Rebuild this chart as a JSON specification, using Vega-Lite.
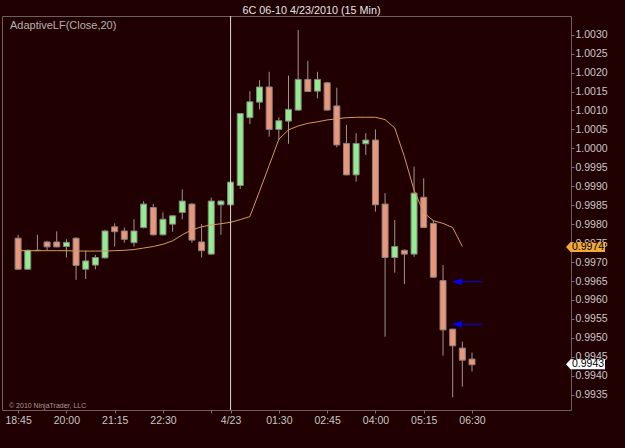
{
  "$schema": "https://vega.github.io/schema/vega-lite/v6.json",
  "width": 569,
  "height": 394,
  "autosize": "none",
  "padding": {"left": 2, "top": 16, "right": 54, "bottom": 38},
  "background": "#200000",
  "config": {
    "view": {"stroke": "#6e5e5e", "strokeWidth": 1},
    "font": "Liberation Sans",
    "axis": {"labelOverlap": false, "labelFlush": false, "grid": false, "zindex": 0}
  },
  "title": {"text": "6C 06-10  4/23/2010 (15 Min)", "color": "#e6e6e6", "fontSize": 10.8, "fontWeight": "normal", "anchor": "middle", "frame": "group", "dx": 25, "offset": 0, "font": "Liberation Sans"},
  "datasets": {
    "candles": [
      {"t": "2010-04-22T18:45", "o": 0.99763, "h": 0.99772, "l": 0.99680, "c": 0.99681},
      {"t": "2010-04-22T19:00", "o": 0.99681, "h": 0.99733, "l": 0.99680, "c": 0.99731},
      {"t": "2010-04-22T19:15", "o": 0.99730, "h": 0.99772, "l": 0.99729, "c": 0.99731},
      {"t": "2010-04-22T19:30", "o": 0.99753, "h": 0.99756, "l": 0.99730, "c": 0.99740},
      {"t": "2010-04-22T19:45", "o": 0.99753, "h": 0.99781, "l": 0.99739, "c": 0.99740},
      {"t": "2010-04-22T20:00", "o": 0.99741, "h": 0.99760, "l": 0.99712, "c": 0.99752},
      {"t": "2010-04-22T20:15", "o": 0.99763, "h": 0.99765, "l": 0.99653, "c": 0.99691},
      {"t": "2010-04-22T20:30", "o": 0.99681, "h": 0.99730, "l": 0.99655, "c": 0.99703},
      {"t": "2010-04-22T20:45", "o": 0.99692, "h": 0.99719, "l": 0.99681, "c": 0.99712},
      {"t": "2010-04-22T21:00", "o": 0.99711, "h": 0.99785, "l": 0.99709, "c": 0.99782},
      {"t": "2010-04-22T21:15", "o": 0.99793, "h": 0.99802, "l": 0.99741, "c": 0.99780},
      {"t": "2010-04-22T21:30", "o": 0.99782, "h": 0.99791, "l": 0.99751, "c": 0.99760},
      {"t": "2010-04-22T21:45", "o": 0.99751, "h": 0.99813, "l": 0.99741, "c": 0.99782},
      {"t": "2010-04-22T22:00", "o": 0.99791, "h": 0.99861, "l": 0.99789, "c": 0.99853},
      {"t": "2010-04-22T22:15", "o": 0.99844, "h": 0.99853, "l": 0.99770, "c": 0.99772},
      {"t": "2010-04-22T22:30", "o": 0.99772, "h": 0.99831, "l": 0.99770, "c": 0.99813},
      {"t": "2010-04-22T22:45", "o": 0.99800, "h": 0.99824, "l": 0.99780, "c": 0.99822},
      {"t": "2010-04-22T23:00", "o": 0.99831, "h": 0.99892, "l": 0.99813, "c": 0.99861},
      {"t": "2010-04-22T23:15", "o": 0.99853, "h": 0.99855, "l": 0.99751, "c": 0.99758},
      {"t": "2010-04-22T23:30", "o": 0.99753, "h": 0.99800, "l": 0.99712, "c": 0.99730},
      {"t": "2010-04-22T23:45", "o": 0.99721, "h": 0.99870, "l": 0.99719, "c": 0.99861},
      {"t": "2010-04-23T00:00", "o": 0.99851, "h": 0.99863, "l": 0.99772, "c": 0.99861},
      {"t": "2010-04-23T00:15", "o": 0.99851, "h": 0.99913, "l": 0.99849, "c": 0.99911},
      {"t": "2010-04-23T00:30", "o": 0.99902, "h": 1.00093, "l": 0.99893, "c": 1.00092},
      {"t": "2010-04-23T00:45", "o": 1.00081, "h": 1.00151, "l": 1.00064, "c": 1.00123},
      {"t": "2010-04-23T01:00", "o": 1.00122, "h": 1.00180, "l": 1.00103, "c": 1.00162},
      {"t": "2010-04-23T01:15", "o": 1.00162, "h": 1.00202, "l": 1.00031, "c": 1.00050},
      {"t": "2010-04-23T01:30", "o": 1.00050, "h": 1.00082, "l": 1.00022, "c": 1.00073},
      {"t": "2010-04-23T01:45", "o": 1.00072, "h": 1.00192, "l": 1.00012, "c": 1.00103},
      {"t": "2010-04-23T02:00", "o": 1.00101, "h": 1.00312, "l": 1.00100, "c": 1.00182},
      {"t": "2010-04-23T02:15", "o": 1.00182, "h": 1.00231, "l": 1.00150, "c": 1.00150},
      {"t": "2010-04-23T02:30", "o": 1.00151, "h": 1.00202, "l": 1.00132, "c": 1.00182},
      {"t": "2010-04-23T02:45", "o": 1.00173, "h": 1.00175, "l": 1.00100, "c": 1.00101},
      {"t": "2010-04-23T03:00", "o": 1.00112, "h": 1.00160, "l": 1.00003, "c": 1.00009},
      {"t": "2010-04-23T03:15", "o": 1.00013, "h": 1.00062, "l": 0.99929, "c": 0.99930},
      {"t": "2010-04-23T03:30", "o": 0.99930, "h": 1.00040, "l": 0.99912, "c": 1.00013},
      {"t": "2010-04-23T03:45", "o": 1.00012, "h": 1.00040, "l": 0.99983, "c": 1.00022},
      {"t": "2010-04-23T04:00", "o": 1.00022, "h": 1.00050, "l": 0.99833, "c": 0.99851},
      {"t": "2010-04-23T04:15", "o": 0.99853, "h": 0.99882, "l": 0.99503, "c": 0.99712},
      {"t": "2010-04-23T04:30", "o": 0.99712, "h": 0.99811, "l": 0.99672, "c": 0.99741},
      {"t": "2010-04-23T04:45", "o": 0.99731, "h": 0.99733, "l": 0.99642, "c": 0.99721},
      {"t": "2010-04-23T05:00", "o": 0.99721, "h": 0.99952, "l": 0.99714, "c": 0.99882},
      {"t": "2010-04-23T05:15", "o": 0.99871, "h": 0.99921, "l": 0.99790, "c": 0.99791},
      {"t": "2010-04-23T05:30", "o": 0.99802, "h": 0.99811, "l": 0.99658, "c": 0.99660},
      {"t": "2010-04-23T05:45", "o": 0.99651, "h": 0.99692, "l": 0.99453, "c": 0.99521},
      {"t": "2010-04-23T06:00", "o": 0.99523, "h": 0.99524, "l": 0.99343, "c": 0.99479},
      {"t": "2010-04-23T06:15", "o": 0.99473, "h": 0.99490, "l": 0.99371, "c": 0.99441},
      {"t": "2010-04-23T06:30", "o": 0.99444, "h": 0.99461, "l": 0.99411, "c": 0.99429}
    ],
    "adaptive": [
      {"t": "2010-04-22T18:45", "v": 0.99730},
      {"t": "2010-04-22T19:00", "v": 0.99730},
      {"t": "2010-04-22T19:15", "v": 0.99730},
      {"t": "2010-04-22T19:30", "v": 0.99730},
      {"t": "2010-04-22T19:45", "v": 0.99730},
      {"t": "2010-04-22T20:00", "v": 0.99730},
      {"t": "2010-04-22T20:15", "v": 0.99729},
      {"t": "2010-04-22T20:30", "v": 0.99729},
      {"t": "2010-04-22T20:45", "v": 0.99729},
      {"t": "2010-04-22T21:00", "v": 0.99729},
      {"t": "2010-04-22T21:15", "v": 0.99730},
      {"t": "2010-04-22T21:30", "v": 0.99731},
      {"t": "2010-04-22T21:45", "v": 0.99733},
      {"t": "2010-04-22T22:00", "v": 0.99737},
      {"t": "2010-04-22T22:15", "v": 0.99741},
      {"t": "2010-04-22T22:30", "v": 0.99747},
      {"t": "2010-04-22T22:45", "v": 0.99756},
      {"t": "2010-04-22T23:00", "v": 0.99772},
      {"t": "2010-04-22T23:15", "v": 0.99785},
      {"t": "2010-04-22T23:30", "v": 0.99793},
      {"t": "2010-04-22T23:45", "v": 0.99798},
      {"t": "2010-04-23T00:00", "v": 0.99801},
      {"t": "2010-04-23T00:15", "v": 0.99805},
      {"t": "2010-04-23T00:30", "v": 0.99812},
      {"t": "2010-04-23T00:45", "v": 0.99820},
      {"t": "2010-04-23T01:00", "v": 0.99887},
      {"t": "2010-04-23T01:15", "v": 0.99955},
      {"t": "2010-04-23T01:30", "v": 1.00024},
      {"t": "2010-04-23T01:45", "v": 1.00049},
      {"t": "2010-04-23T02:00", "v": 1.00059},
      {"t": "2010-04-23T02:15", "v": 1.00066},
      {"t": "2010-04-23T02:30", "v": 1.00070},
      {"t": "2010-04-23T02:45", "v": 1.00075},
      {"t": "2010-04-23T03:00", "v": 1.00078},
      {"t": "2010-04-23T03:15", "v": 1.00081},
      {"t": "2010-04-23T03:30", "v": 1.00082},
      {"t": "2010-04-23T03:45", "v": 1.00082},
      {"t": "2010-04-23T04:00", "v": 1.00082},
      {"t": "2010-04-23T04:15", "v": 1.00076},
      {"t": "2010-04-23T04:30", "v": 1.00054},
      {"t": "2010-04-23T04:45", "v": 0.99978},
      {"t": "2010-04-23T05:00", "v": 0.99890},
      {"t": "2010-04-23T05:15", "v": 0.99830},
      {"t": "2010-04-23T05:30", "v": 0.99809},
      {"t": "2010-04-23T05:45", "v": 0.99802},
      {"t": "2010-04-23T06:00", "v": 0.99791},
      {"t": "2010-04-23T06:15", "v": 0.99741}
    ],
    "session": [{"t": "2010-04-23T00:15"}],
    "arrows": [
      {"t": "2010-04-23T06:00", "t2": "2010-04-23T06:46", "price": 0.99648},
      {"t": "2010-04-23T06:00", "t2": "2010-04-23T06:46", "price": 0.99536}
    ],
    "markers": [
      {"price": 0.9974, "label": "0.9974", "kind": "indicator"},
      {"price": 0.9943, "label": "0.9943", "kind": "last"}
    ],
    "legendText": [{"label": "AdaptiveLF(Close,20)"}],
    "copyright": [{"label": "© 2010 NinjaTrader, LLC"}]
  },
  "layer": [
    {
      "data": {"name": "candles"},
      "mark": {"type": "rule", "color": "#a09494", "strokeWidth": 1},
      "encoding": {
        "x": {
          "field": "t", "type": "temporal", "title": null,
          "scale": {"domain": [
            {"year": 2010, "month": 4, "date": 22, "hours": 18, "minutes": 27, "seconds": 45},
            {"year": 2010, "month": 4, "date": 23, "hours": 8, "minutes": 56}
          ]},
          "axis": {
            "values": [
              {"year": 2010, "month": 4, "date": 22, "hours": 18, "minutes": 45},
              {"year": 2010, "month": 4, "date": 22, "hours": 20, "minutes": 0},
              {"year": 2010, "month": 4, "date": 22, "hours": 21, "minutes": 15},
              {"year": 2010, "month": 4, "date": 22, "hours": 22, "minutes": 30},
              {"year": 2010, "month": 4, "date": 22, "hours": 23, "minutes": 45},
              {"year": 2010, "month": 4, "date": 23, "hours": 0, "minutes": 15},
              {"year": 2010, "month": 4, "date": 23, "hours": 1, "minutes": 30},
              {"year": 2010, "month": 4, "date": 23, "hours": 2, "minutes": 45},
              {"year": 2010, "month": 4, "date": 23, "hours": 4, "minutes": 0},
              {"year": 2010, "month": 4, "date": 23, "hours": 5, "minutes": 15},
              {"year": 2010, "month": 4, "date": 23, "hours": 6, "minutes": 30}
            ],
            "tickCount": 30,
            "labelExpr": "timeFormat(datum.value, '%H:%M') == '00:15' ? '4/23' : (timeFormat(datum.value, '%H:%M') == '23:45' ? '' : timeFormat(datum.value, '%H:%M'))",
            "grid": false, "domain": false, "tickColor": "#7d6d6d", "tickSize": 3,
            "labelColor": "#c8c8c8", "labelFontSize": 10.5, "labelPadding": 2,
            "labelFlush": false, "labelOverlap": false, "labelFont": "Liberation Sans", "zindex": 0
          }
        },
        "y": {
          "field": "l", "type": "quantitative", "title": null,
          "scale": {"domain": [0.993096, 1.003493], "zero": false, "nice": false},
          "axis": {
            "orient": "right",
            "values": [0.9935, 0.994, 0.9945, 0.995, 0.9955, 0.996, 0.9965, 0.997, 0.9975, 0.998, 0.9985, 0.999, 0.9995, 1, 1.0005, 1.001, 1.0015, 1.002, 1.0025, 1.003],
            "tickCount": 40,
            "format": ".4f", "grid": false, "domain": false, "tickColor": "#7d6d6d", "tickSize": 3,
            "labelColor": "#c8c8c8", "labelFontSize": 10.5, "labelPadding": 1,
            "labelOverlap": false, "labelFlush": false, "labelFont": "Liberation Sans", "zindex": 0
          }
        },
        "y2": {"field": "h"}
      }
    },
    {
      "data": {"name": "candles"},
      "mark": {"type": "bar", "size": 6, "stroke": "#8a8080", "strokeWidth": 1},
      "encoding": {
        "x": {"field": "t", "type": "temporal", "title": null},
        "y": {"field": "o", "type": "quantitative", "title": null},
        "y2": {"field": "c"},
        "color": {"condition": {"test": "datum.o < datum.c", "value": "#90ee90"}, "value": "#e9967a"}
      }
    },
    {
      "data": {"name": "adaptive"},
      "mark": {"type": "line", "color": "#d39a5c", "strokeWidth": 1},
      "encoding": {
        "x": {"field": "t", "type": "temporal", "title": null},
        "y": {"field": "v", "type": "quantitative", "title": null}
      }
    },
    {
      "data": {"name": "session"},
      "mark": {"type": "rule", "color": "#e0dada", "strokeWidth": 1},
      "encoding": {
        "x": {"field": "t", "type": "temporal", "title": null}
      }
    },
    {
      "data": {"name": "arrows"},
      "mark": {"type": "rule", "color": "#0000ff", "strokeWidth": 1},
      "encoding": {
        "x": {"field": "t", "type": "temporal", "title": null},
        "x2": {"field": "t2"},
        "y": {"field": "price", "type": "quantitative", "title": null}
      }
    },
    {
      "data": {"name": "arrows"},
      "mark": {"type": "point", "shape": "M0,0L1.8,-0.7L1.8,0.7Z", "size": 100, "filled": true, "color": "#0000ff", "opacity": 1},
      "encoding": {
        "x": {"field": "t", "type": "temporal", "title": null},
        "y": {"field": "price", "type": "quantitative", "title": null}
      }
    },
    {
      "data": {"name": "markers"},
      "mark": {"type": "point", "shape": "M0,0L0.9,-1L7.8,-1L7.8,1L0.9,1Z", "size": 100, "filled": true, "opacity": 1, "strokeWidth": 0},
      "encoding": {
        "x": {"datum": {"year": 2010, "month": 4, "date": 23, "hours": 8, "minutes": 56}, "type": "temporal"},
        "y": {"field": "price", "type": "quantitative", "title": null},
        "color": {"field": "kind", "type": "nominal", "scale": {"domain": ["indicator", "last"], "range": ["#f2a93b", "#ffffff"]}, "legend": null}
      }
    },
    {
      "data": {"name": "markers"},
      "mark": {"type": "text", "align": "left", "baseline": "middle", "dx": 6, "fontSize": 10.5, "color": "#000000", "font": "Liberation Sans"},
      "encoding": {
        "x": {"datum": {"year": 2010, "month": 4, "date": 23, "hours": 8, "minutes": 56}, "type": "temporal"},
        "y": {"field": "price", "type": "quantitative", "title": null},
        "text": {"field": "label"}
      }
    },
    {
      "data": {"name": "legendText"},
      "mark": {"type": "text", "align": "left", "baseline": "middle", "dx": 3, "dy": 10, "fontSize": 11, "color": "#b8b0b0", "font": "Liberation Sans"},
      "encoding": {
        "x": {"datum": {"year": 2010, "month": 4, "date": 22, "hours": 18, "minutes": 27, "seconds": 45}, "type": "temporal"},
        "y": {"datum": 1.003493},
        "text": {"field": "label"}
      }
    },
    {
      "data": {"name": "copyright"},
      "mark": {"type": "text", "align": "left", "baseline": "middle", "dx": 2, "dy": -4, "fontSize": 7, "color": "#a89c9c", "font": "Liberation Sans"},
      "encoding": {
        "x": {"datum": {"year": 2010, "month": 4, "date": 22, "hours": 18, "minutes": 27, "seconds": 45}, "type": "temporal"},
        "y": {"datum": 0.993096},
        "text": {"field": "label"}
      }
    }
  ]
}
